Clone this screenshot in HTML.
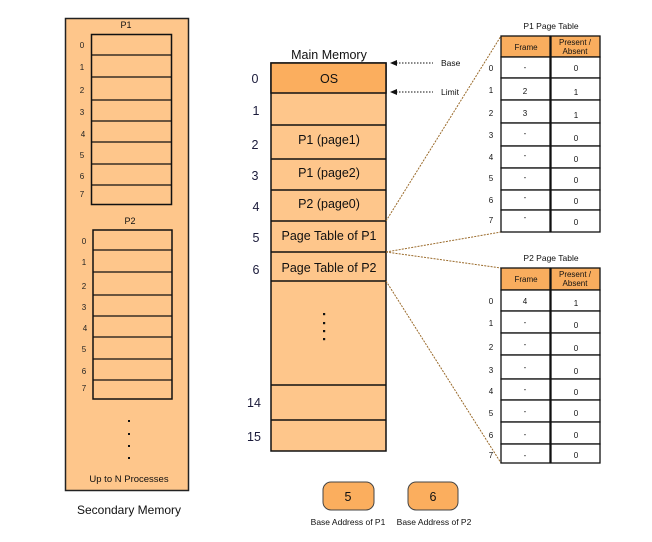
<!DOCTYPE html>
<html><head><meta charset="utf-8"><style>
html,body{margin:0;padding:0;background:#fff;}
svg{display:block;font-family:"Liberation Sans",Arial,sans-serif;}
</style></head><body>
<svg width="652" height="542" viewBox="0 0 652 542" xmlns="http://www.w3.org/2000/svg">
<rect width="652" height="542" fill="#fff"/>
<!-- Secondary memory -->
<rect x="65.5" y="18.5" width="123" height="472" fill="#FEC68B" stroke="#222" stroke-width="1.5"/>
<text x="126" y="28" font-size="9" text-anchor="middle" fill="#111">P1</text>
<rect x="91.5" y="34.5" width="80" height="170" fill="#FEC68B" stroke="#111" stroke-width="1.5"/>
<g stroke="#111" stroke-width="1.3">
<line x1="91" y1="55" x2="172" y2="55"/><line x1="91" y1="77" x2="172" y2="77"/><line x1="91" y1="100" x2="172" y2="100"/><line x1="91" y1="121" x2="172" y2="121"/><line x1="91" y1="142" x2="172" y2="142"/><line x1="91" y1="164" x2="172" y2="164"/><line x1="91" y1="185" x2="172" y2="185"/>
</g>
<g font-size="8" fill="#222" text-anchor="middle">
<text x="82" y="48">0</text><text x="82" y="70">1</text><text x="82" y="93">2</text><text x="82" y="115">3</text><text x="83" y="137">4</text><text x="82" y="158">5</text><text x="82" y="179">6</text><text x="82" y="197">7</text>
</g>
<text x="130" y="224" font-size="9" text-anchor="middle" fill="#111">P2</text>
<rect x="93" y="230" width="79" height="169" fill="#FEC68B" stroke="#111" stroke-width="1.5"/>
<g stroke="#111" stroke-width="1.3">
<line x1="93" y1="250" x2="172" y2="250"/><line x1="93" y1="272" x2="172" y2="272"/><line x1="93" y1="295" x2="172" y2="295"/><line x1="93" y1="316" x2="172" y2="316"/><line x1="93" y1="337" x2="172" y2="337"/><line x1="93" y1="359" x2="172" y2="359"/><line x1="93" y1="380" x2="172" y2="380"/>
</g>
<g font-size="8" fill="#222" text-anchor="middle">
<text x="84" y="244">0</text><text x="84" y="265">1</text><text x="84" y="289">2</text><text x="84" y="310">3</text><text x="85" y="331">4</text><text x="84" y="352">5</text><text x="84" y="374">6</text><text x="84" y="391">7</text>
</g>
<g fill="#111"><rect x="128" y="420" width="2" height="2"/><rect x="128" y="433" width="2" height="2"/><rect x="128" y="445" width="2" height="2"/><rect x="128" y="457" width="2" height="2"/></g>
<text x="129" y="482" font-size="9.5" text-anchor="middle" fill="#111">Up to N Processes</text>
<text x="129" y="514" font-size="12" text-anchor="middle" fill="#111">Secondary Memory</text>

<!-- Main memory -->
<text x="329" y="59" font-size="12.5" text-anchor="middle" fill="#111">Main Memory</text>
<rect x="271" y="63" width="115" height="388" fill="#FEC68B" stroke="#111" stroke-width="1.5"/>
<rect x="271" y="63" width="115" height="30" fill="#FBAE5E" stroke="#111" stroke-width="1.5"/>
<g stroke="#111" stroke-width="1.5">
<line x1="271" y1="125" x2="386" y2="125"/><line x1="271" y1="159" x2="386" y2="159"/><line x1="271" y1="190" x2="386" y2="190"/><line x1="271" y1="221" x2="386" y2="221"/><line x1="271" y1="252" x2="386" y2="252"/><line x1="271" y1="281" x2="386" y2="281"/><line x1="271" y1="385" x2="386" y2="385"/><line x1="271" y1="420" x2="386" y2="420"/>
</g>
<g font-size="12.5" fill="#111" text-anchor="middle">
<text x="329" y="83">OS</text>
<text x="329" y="144">P1 (page1)</text>
<text x="329" y="177">P1 (page2)</text>
<text x="329" y="208">P2 (page0)</text>
<text x="329" y="240">Page Table of P1</text>
<text x="329" y="272">Page Table of P2</text>
</g>
<g fill="#111"><rect x="323" y="313" width="2.2" height="2.2"/><rect x="323" y="322" width="2.2" height="2.2"/><rect x="323" y="330" width="2.2" height="2.2"/><rect x="323" y="338" width="2.2" height="2.2"/></g>
<g font-size="12.5" fill="#1a1a3a" text-anchor="middle">
<text x="255" y="83">0</text><text x="256" y="115">1</text><text x="255" y="149">2</text><text x="255" y="180">3</text><text x="256" y="211">4</text><text x="256" y="242">5</text><text x="256" y="274">6</text><text x="254" y="407">14</text><text x="254" y="441">15</text>
</g>
<!-- base / limit -->
<g stroke="#111" stroke-width="1" stroke-dasharray="1.5,1.5"><line x1="396" y1="63" x2="433" y2="63"/><line x1="396" y1="92" x2="433" y2="92"/></g>
<polygon points="390,63 397,60 397,66" fill="#111"/><polygon points="390,92 397,89 397,95" fill="#111"/>
<text x="441" y="66" font-size="8.5" fill="#111">Base</text>
<text x="441" y="95" font-size="8.5" fill="#111">Limit</text>

<!-- connectors -->
<g stroke="#9a6a2a" stroke-width="1" stroke-dasharray="2,1.2" fill="none">
<line x1="386" y1="221" x2="501" y2="36"/>
<line x1="386" y1="252" x2="501" y2="232"/>
<line x1="386" y1="252" x2="501" y2="268"/>
<line x1="386" y1="281" x2="501" y2="463"/>
</g>

<!-- P1 page table -->
<text x="551" y="29" font-size="8.5" text-anchor="middle" fill="#111">P1 Page Table</text>
<rect x="501" y="36" width="49" height="21" fill="#F9AD5E" stroke="#111" stroke-width="1.3"/>
<rect x="551" y="36" width="49" height="21" fill="#F9AD5E" stroke="#111" stroke-width="1.3"/>
<text x="526" y="50" font-size="8" text-anchor="middle" fill="#111">Frame</text>
<text x="575" y="45" font-size="8" text-anchor="middle" fill="#111">Present /</text>
<text x="575" y="54" font-size="8" text-anchor="middle" fill="#111">Absent</text>
<g fill="#fff" stroke="#111" stroke-width="1.3">
<rect x="501" y="57" width="49" height="21"/><rect x="551" y="57" width="49" height="21"/>
<rect x="501" y="78" width="49" height="22"/><rect x="551" y="78" width="49" height="22"/>
<rect x="501" y="100" width="49" height="23"/><rect x="551" y="100" width="49" height="23"/>
<rect x="501" y="123" width="49" height="23"/><rect x="551" y="123" width="49" height="23"/>
<rect x="501" y="146" width="49" height="22"/><rect x="551" y="146" width="49" height="22"/>
<rect x="501" y="168" width="49" height="22"/><rect x="551" y="168" width="49" height="22"/>
<rect x="501" y="190" width="49" height="20"/><rect x="551" y="190" width="49" height="20"/>
<rect x="501" y="210" width="49" height="22"/><rect x="551" y="210" width="49" height="22"/>
</g>
<g font-size="8" fill="#111" text-anchor="middle">
<text x="491" y="71">0</text><text x="491" y="93">1</text><text x="491" y="116">2</text><text x="491" y="138">3</text><text x="491" y="160">4</text><text x="491" y="181">5</text><text x="491" y="203">6</text><text x="491" y="223">7</text>
<text x="525" y="70">-</text><text x="525" y="94">2</text><text x="525" y="116">3</text><text x="525" y="136">-</text><text x="525" y="158">-</text><text x="525" y="180">-</text><text x="525" y="200">-</text><text x="525" y="220">-</text>
<text x="576" y="71">0</text><text x="576" y="95">1</text><text x="576" y="118">1</text><text x="576" y="141">0</text><text x="576" y="162">0</text><text x="576" y="183">0</text><text x="576" y="204">0</text><text x="576" y="225">0</text>
</g>

<!-- P2 page table -->
<text x="551" y="261" font-size="8.5" text-anchor="middle" fill="#111">P2 Page Table</text>
<rect x="501" y="268" width="49" height="22" fill="#F9AD5E" stroke="#111" stroke-width="1.3"/>
<rect x="551" y="268" width="49" height="22" fill="#F9AD5E" stroke="#111" stroke-width="1.3"/>
<text x="526" y="282" font-size="8" text-anchor="middle" fill="#111">Frame</text>
<text x="575" y="277" font-size="8" text-anchor="middle" fill="#111">Present /</text>
<text x="575" y="286" font-size="8" text-anchor="middle" fill="#111">Absent</text>
<g fill="#fff" stroke="#111" stroke-width="1.3">
<rect x="501" y="290" width="49" height="21"/><rect x="551" y="290" width="49" height="21"/>
<rect x="501" y="311" width="49" height="22"/><rect x="551" y="311" width="49" height="22"/>
<rect x="501" y="333" width="49" height="22"/><rect x="551" y="333" width="49" height="22"/>
<rect x="501" y="355" width="49" height="24"/><rect x="551" y="355" width="49" height="24"/>
<rect x="501" y="379" width="49" height="21"/><rect x="551" y="379" width="49" height="21"/>
<rect x="501" y="400" width="49" height="22"/><rect x="551" y="400" width="49" height="22"/>
<rect x="501" y="422" width="49" height="22"/><rect x="551" y="422" width="49" height="22"/>
<rect x="501" y="444" width="49" height="19"/><rect x="551" y="444" width="49" height="19"/>
</g>
<g font-size="8" fill="#111" text-anchor="middle">
<text x="491" y="304">0</text><text x="491" y="326">1</text><text x="491" y="350">2</text><text x="491" y="373">3</text><text x="491" y="394">4</text><text x="491" y="416">5</text><text x="491" y="438">6</text><text x="491" y="458">7</text>
<text x="525" y="304">4</text><text x="525" y="325">-</text><text x="525" y="347">-</text><text x="525" y="370">-</text><text x="525" y="392">-</text><text x="525" y="414">-</text><text x="525" y="437">-</text><text x="525" y="458">-</text>
<text x="576" y="306">1</text><text x="576" y="328">0</text><text x="576" y="351">0</text><text x="576" y="374">0</text><text x="576" y="395">0</text><text x="576" y="416">0</text><text x="576" y="438">0</text><text x="576" y="458">0</text>
</g>

<!-- base addresses -->
<rect x="323" y="482" width="51" height="28" rx="8" fill="#FBAE5E" stroke="#444" stroke-width="1"/>
<rect x="408" y="482" width="50" height="28" rx="8" fill="#FBAE5E" stroke="#444" stroke-width="1"/>
<text x="348" y="501" font-size="12.5" text-anchor="middle" fill="#111">5</text>
<text x="433" y="501" font-size="12.5" text-anchor="middle" fill="#111">6</text>
<text x="348" y="525" font-size="8.5" text-anchor="middle" fill="#111">Base Address of P1</text>
<text x="434" y="525" font-size="8.5" text-anchor="middle" fill="#111">Base Address of P2</text>
</svg>
</body></html>
